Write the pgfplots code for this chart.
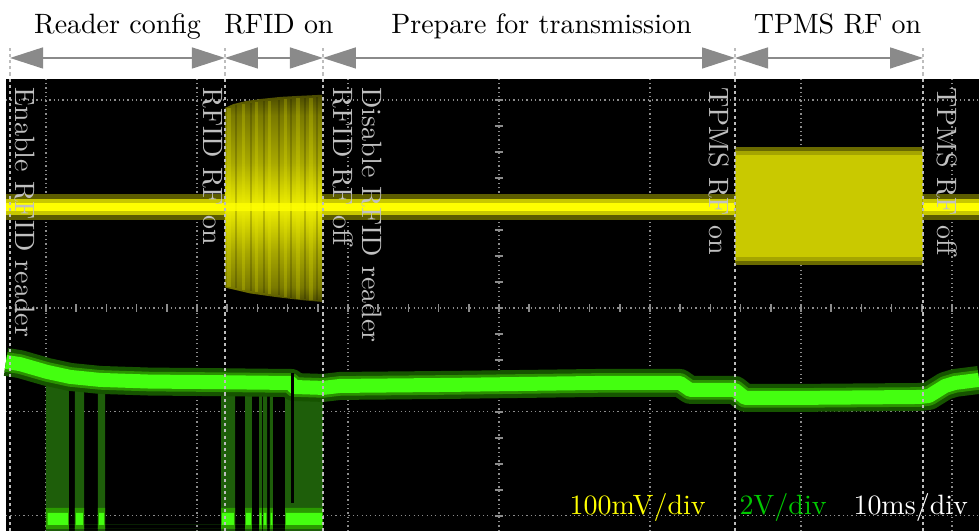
\documentclass[border=0pt]{standalone}
\usepackage{pgfplots}
\usepackage{pgfplotstable}
\pgfplotsset{compat=1.18}
\usetikzlibrary{arrows.meta}

% trace colours
\definecolor{ylwCore}{HTML}{FFFF00}
\definecolor{ylwMid}{HTML}{C8C800}
\definecolor{ylwDark}{HTML}{5C5C00}
\definecolor{rfDark}{HTML}{4A4A00}
\definecolor{rfLow}{HTML}{7A7A00}
\definecolor{rfMid}{HTML}{A8A800}
\definecolor{rfHot}{HTML}{F0F000}
\definecolor{tpOuter}{HTML}{6A6A00}
\definecolor{tpMid}{HTML}{A5A500}
\definecolor{tpInner}{HTML}{C9C900}
\definecolor{grnCore}{HTML}{44FF10}
\definecolor{grnMid}{HTML}{2A9200}
\definecolor{grnDark}{HTML}{165400}
\definecolor{grnBar}{HTML}{1E5E0A}
\definecolor{grnBlob}{HTML}{2A9A00}
\definecolor{lblGreen}{HTML}{00C800}
\definecolor{gridGray}{HTML}{8C8C8C}
\definecolor{eventGray}{HTML}{BDBDBD}
\definecolor{noteGray}{HTML}{C0C0C0}
\definecolor{spanGray}{HTML}{8A8A8A}

% brightness profile of the RFID field envelope (bottom to top)
\pgfdeclareverticalshading{rfidfield}{100bp}{
  color(0bp)=(rfDark); color(25bp)=(rfDark); color(28.6bp)=(rfLow);
  color(37.3bp)=(rfMid); color(47.9bp)=(rfHot); color(58.7bp)=(rfMid);
  color(70bp)=(rfLow); color(75bp)=(rfDark); color(100bp)=(rfDark)}

\tikzset{
  gridline/.style={gridGray, line width=0.4pt, dash pattern=on 0.45pt off 1.1pt},
  tickmark/.style={gridGray, line width=0.6pt},
  eventline/.style={eventGray, line width=0.45pt, dash pattern=on 1.1pt off 1.1pt},
  span/.style={spanGray, line width=0.55pt,
    {Triangle[length=11.8pt,width=7.5pt]}-{Triangle[length=11.8pt,width=7.5pt]}},
  note/.style={noteGray, rotate=-90, anchor=base west, inner sep=0pt},
}

% channel 2 (supply) mean level: time in ms, level in divisions
\pgfplotstableread{
t       v
-32.65  -0.519
-31.72  -0.540
-29.93  -0.615
-28.41  -0.663
-26.42  -0.692
-23.11  -0.708
-19.80  -0.712
-14.17  -0.721
-13.77  -0.721
-13.58  -0.760
-11.66  -0.769
-10.53  -0.750
-3.25   -0.740
6.69    -0.721
11.99   -0.721
12.65   -0.788
15.63   -0.788
16.29   -0.865
19.93   -0.865
27.88   -0.856
28.48   -0.846
29.54   -0.750
30.20   -0.721
31.788  -0.692
}\supply

\begin{document}
\begin{tikzpicture}
% x: time in ms (10 ms/div, 0 = screen centre); y: screen divisions
\begin{axis}[
  scale only axis, width=350pt, height=189.8pt,
  xmin=-33.046, xmax=31.788, ymin=-2.144, ymax=2.9615,
  hide axis, clip=false,
]
\coordinate (pageSW) at (rel axis cs:0,0);
\coordinate (pageNE) at (rel axis cs:1,1);

% scope screen
\fill[black] (axis cs:-32.65,-2.144) rectangle (axis cs:31.788,2.202);
\pgfplotsinvokeforeach{-30,-20,-10,0,10,20,30}{
  \draw[gridline] (axis cs:#1,-2.144) -- (axis cs:#1,2.202);}
\pgfplotsinvokeforeach{-2,-1,0,1,2}{
  \draw[gridline] (axis cs:-32.65,#1) -- (axis cs:31.788,#1);}
\pgfplotsinvokeforeach{-32,-30,...,30}{
  \draw[tickmark] (axis cs:#1,-0.035) -- (axis cs:#1,0.035);}
\pgfplotsinvokeforeach{-2,-1.75,...,2.01}{
  \draw[tickmark] (axis cs:-0.27,#1) -- (axis cs:0.27,#1);}

% channel 1: RF pickup (100 mV/div)
\addplot[ylwDark, line width=9.6pt] coordinates {(-32.65,0.971) (31.788,0.971)};
\addplot[ylwMid, line width=6pt] coordinates {(-32.65,0.971) (31.788,0.971)};
\addplot[ylwCore, line width=3.2pt] coordinates {(-32.65,0.971) (31.788,0.971)};

% TPMS transmitter burst
\addplot[draw=none, fill=tpOuter] coordinates {
  (15.63,0.413) (15.63,1.548) (28.08,1.548) (28.08,0.413)};
\addplot[draw=none, fill=tpMid] coordinates {
  (15.66,0.45) (15.66,1.51) (28.05,1.51) (28.05,0.45)};
\addplot[draw=none, fill=tpInner] coordinates {
  (15.70,0.49) (15.70,1.471) (28.00,1.471) (28.00,0.49)};

% RFID reader field
\addplot[draw=none, shade, shading=rfidfield] coordinates {
  (-18.15,1.923) (-17.61,1.96) (-16.75,1.99) (-15.76,2.01) (-14.44,2.03)
  (-13.18,2.04) (-11.72,2.05)
  (-11.72,0.058) (-13.18,0.077) (-14.83,0.106) (-16.49,0.14) (-18.01,0.192)
  (-18.15,0.20)};
\addplot[rfHot, opacity=0.22, line width=1.1pt, unbounded coords=jump] coordinates {
  (-17.88,1.92) (-17.88,0.20) (-17.88,nan)
  (-16.95,1.96) (-16.95,0.17) (-16.95,nan)
  (-16.03,1.98) (-16.03,0.15) (-16.03,nan)
  (-15.17,1.99) (-15.17,0.13) (-15.17,nan)
  (-14.11,2.01) (-14.11,0.11) (-14.11,nan)
  (-13.31,2.02) (-13.31,0.09) (-13.31,nan)
  (-12.45,2.02) (-12.45,0.08)};
\addplot[black, opacity=0.18, line width=0.8pt, unbounded coords=jump] coordinates {
  (-17.42,1.95) (-17.42,0.19) (-17.42,nan)
  (-16.42,1.97) (-16.42,0.16) (-16.42,nan)
  (-15.56,1.99) (-15.56,0.14) (-15.56,nan)
  (-14.57,2.00) (-14.57,0.12) (-14.57,nan)
  (-13.77,2.01) (-13.77,0.10) (-13.77,nan)
  (-12.85,2.02) (-12.85,0.09) (-12.85,nan)
  (-12.05,2.03) (-12.05,0.08)};
\addplot[ylwCore, opacity=0.8, line width=3pt] coordinates {(-18.12,0.971) (-11.75,0.971)};

% channel 2: supply (2 V/div), dips to the bottom of the screen
\addplot[const plot, draw=none, fill=grnBar] coordinates {
  (-30.00,-2.144) (-30.00,-0.70) (-28.48,-2.144) (-28.08,-0.70) (-27.48,-2.144)
  (-26.56,-0.70) (-26.09,-2.144) (-18.41,-0.70) (-17.48,-2.144) (-16.82,-0.70)
  (-16.36,-2.144) (-15.89,-0.70) (-15.70,-2.144) (-15.63,-0.70) (-15.36,-2.144)
  (-15.17,-0.70) (-14.97,-2.144) (-14.17,-0.70) (-11.66,-2.144)};
\addplot[const plot, draw=none, fill=grnBlob] coordinates {
  (-30.00,-2.125) (-30.00,-1.923) (-28.48,-2.125) (-28.08,-1.923) (-27.48,-2.125)
  (-26.56,-1.923) (-26.09,-2.125) (-18.41,-1.923) (-17.48,-2.125) (-16.82,-1.923)
  (-16.36,-2.125) (-15.89,-1.923) (-15.70,-2.125) (-15.63,-1.923) (-15.36,-2.125)
  (-15.17,-1.923) (-14.97,-2.125) (-14.17,-1.923) (-11.66,-2.125)};
\addplot[const plot, draw=none, fill=grnCore] coordinates {
  (-29.90,-2.087) (-29.90,-1.971) (-28.55,-2.087) (-28.02,-1.971) (-27.55,-2.087)
  (-26.50,-1.971) (-26.15,-2.087) (-18.35,-1.971) (-17.55,-2.087) (-16.76,-1.971)
  (-16.42,-2.087) (-15.85,-1.971) (-15.74,-2.087) (-15.59,-1.971) (-15.40,-2.087)
  (-15.13,-1.971) (-15.01,-2.087) (-14.11,-1.971) (-11.72,-2.087)};

\addplot[grnDark, line width=10pt, line join=round] table[x=t, y=v] {\supply};
\addplot[grnMid, line width=7pt, line join=round] table[x=t, y=v] {\supply};
\addplot[grnCore, line width=5pt, line join=round] table[x=t, y=v] {\supply};
\addplot[black, line width=0.8pt] coordinates {(-13.68,-0.63) (-13.68,-1.875)};

% event markers
\pgfplotsinvokeforeach{-32.38,-18.15,-11.66,15.63,28.08}{
  \draw[eventline] (axis cs:#1,-2.144) -- (axis cs:#1,2.529);}
\node[note] at (axis cs:-32.05,2.125) {Enable RFID reader};
\node[note] at (axis cs:-19.54,2.125) {RFID RF on};
\node[note] at (axis cs:-10.99,2.125) {RFID RF off};
\node[note] at (axis cs:-9.07,2.125) {Disable RFID reader};
\node[note] at (axis cs:13.97,2.125) {TPMS RF on};
\node[note] at (axis cs:29.01,2.125) {TPMS RF off};

% scale readout
\node[anchor=base west, inner sep=0pt, text=ylwCore] at (axis cs:4.64,-1.99) {100mV/div};
\node[anchor=base west, inner sep=0pt, text=lblGreen] at (axis cs:15.89,-1.99) {2V/div};
\node[anchor=base west, inner sep=0pt, text=white] at (axis cs:23.44,-1.99) {10ms/div};

% phases
\draw[span] (axis cs:-32.38,2.404) -- (axis cs:-18.15,2.404);
\draw[span] (axis cs:-18.15,2.404) -- (axis cs:-11.66,2.404);
\draw[span] (axis cs:-11.66,2.404) -- (axis cs:15.63,2.404);
\draw[span] (axis cs:15.63,2.404) -- (axis cs:28.08,2.404);
\node[anchor=base, inner sep=0pt] at (axis cs:-25.26,2.644) {Reader config};
\node[anchor=base, inner sep=0pt] at (axis cs:-14.57,2.644) {RFID on};
\node[anchor=base, inner sep=0pt] at (axis cs:2.81,2.644) {Prepare for transmission};
\node[anchor=base, inner sep=0pt] at (axis cs:22.42,2.644) {TPMS RF on};
\end{axis}
\pgfresetboundingbox
\path[use as bounding box] (pageSW) rectangle (pageNE);
\end{tikzpicture}
\end{document}
